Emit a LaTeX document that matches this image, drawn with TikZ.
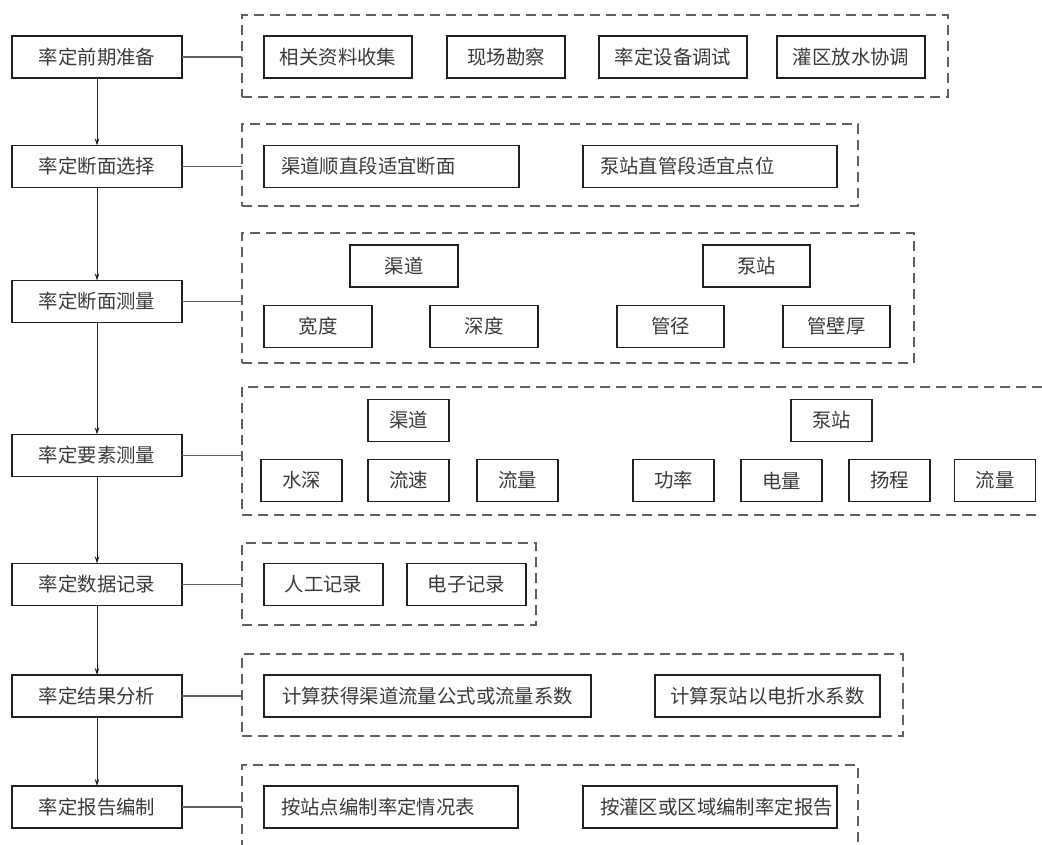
\documentclass[tikz,border=0pt]{standalone}
\usepackage{fontspec}
\newfontfamily\cjk{Noto Sans CJK SC}
\usepackage{tikz}
\usetikzlibrary{arrows.meta}
\definecolor{boxline}{HTML}{231F20}
\definecolor{dashline}{HTML}{5F6063}
\definecolor{boxtext}{HTML}{3A3A3A}

\begin{document}
\begin{tikzpicture}[x=1pt, y=-1pt,
  every node/.style={font=\cjk\fontsize{19.4}{23}\selectfont, text=boxtext, inner sep=0pt, outer sep=0pt},
  stepbox/.style={draw=boxline, line width=1.2pt, minimum width=170pt, minimum height=42pt},
  subbox/.style={draw=boxline, line width=1.2pt, minimum width=#1, minimum height=42pt},
  leftbox/.style={subbox=#1, inner xsep=17pt, text width=#1-34pt, align=left},
  group/.style={draw=dashline, line width=1.1pt, dash pattern=on 10pt off 6pt},
  link/.style={draw=dashline, line width=1.1pt},
  flow/.style={draw=boxline, line width=0.9pt, -{Stealth[length=7pt, width=4.5pt]}}]
\useasboundingbox (0,0) rectangle (1042,844);

\node[stepbox] (prep) at (97,57) {率定前期准备};
\node[stepbox] (sect) at (97,166.5) {率定断面选择};
\node[stepbox] (secm) at (97,301.5) {率定断面测量};
\node[stepbox] (elem) at (97,455.5) {率定要素测量};
\node[stepbox] (data) at (97,584.5) {率定数据记录};
\node[stepbox] (anal) at (97,696) {率定结果分析};
\node[stepbox] (repo) at (97,807) {率定报告编制};

\node[group, minimum width=706pt, minimum height=82pt] (gprep) at (595,56) {};
\node[group, minimum width=616pt, minimum height=82pt] (gsect) at (550,165) {};
\node[group, minimum width=672pt, minimum height=130pt] (gsecm) at (578,298) {};
\node[group, minimum width=808pt, minimum height=128pt] (gelem) at (646,451) {};
\node[group, minimum width=294pt, minimum height=82pt] (gdata) at (389,584) {};
\node[group, minimum width=661pt, minimum height=82pt] (ganal) at (572.5,695) {};
\node[group, minimum width=616pt, minimum height=85pt] (grepo) at (550,807.5) {};

\node[subbox=148pt] (collect) at (338,57) {相关资料收集};
\node[subbox=118pt] (survey) at (506,57) {现场勘察};
\node[subbox=148pt] (debug) at (673,57) {率定设备调试};
\node[subbox=148pt] (release) at (851,57) {灌区放水协调};

\node[leftbox=255pt] (chsect) at (391.5,166.5) {渠道顺直段适宜断面};
\node[leftbox=254pt] (pssect) at (710,166.5) {泵站直管段适宜点位};

\node[subbox=108pt] (chan) at (404,266) {渠道};
\node[subbox=107pt] (pump) at (756.5,266) {泵站};
\node[subbox=108pt] (width) at (318,326.5) {宽度};
\node[subbox=108pt] (depth) at (484,326.5) {深度};
\node[subbox=107pt] (diam) at (670.5,326.5) {管径};
\node[subbox=107pt] (wall) at (836.5,326.5) {管壁厚};

\node[subbox=81pt] (chanb) at (408.5,420.5) {渠道};
\node[subbox=81pt] (pumpb) at (831.5,420.5) {泵站};
\node[subbox=81pt] (wdepth) at (301.5,480.5) {水深};
\node[subbox=81pt] (speed) at (408.5,480.5) {流速};
\node[subbox=81pt] (chflow) at (517.5,480.5) {流量};
\node[subbox=81pt] (power) at (673.5,480.5) {功率};
\node[subbox=81pt] (energy) at (781.5,480.5) {电量};
\node[subbox=81pt] (head) at (889.5,480.5) {扬程};
\node[subbox=81pt] (psflow) at (995,480.5) {流量};

\node[subbox=119pt] (manual) at (323.5,584.5) {人工记录};
\node[subbox=119pt] (digital) at (466.5,584.5) {电子记录};

\node[subbox=327pt] (chcoef) at (427.5,696) {计算获得渠道流量公式或流量系数};
\node[subbox=225pt] (pscoef) at (767.5,696) {计算泵站以电折水系数};

\node[leftbox=254pt] (sitetab) at (391,807) {按站点编制率定情况表};
\node[leftbox=254pt] (areatab) at (710,807) {按灌区或区域编制率定报告};

\draw[flow] (prep) -- (sect);
\draw[flow] (sect) -- (secm);
\draw[flow] (secm) -- (elem);
\draw[flow] (elem) -- (data);
\draw[flow] (data) -- (anal);
\draw[flow] (anal) -- (repo);

\draw[link] (prep.east) -- (prep.east -| gprep.west);
\draw[link] (sect.east) -- (sect.east -| gsect.west);
\draw[link] (secm.east) -- (secm.east -| gsecm.west);
\draw[link] (elem.east) -- (elem.east -| gelem.west);
\draw[link] (data.east) -- (data.east -| gdata.west);
\draw[link] (anal.east) -- (anal.east -| ganal.west);
\draw[link] (repo.east) -- (repo.east -| grepo.west);
\end{tikzpicture}
\end{document}
